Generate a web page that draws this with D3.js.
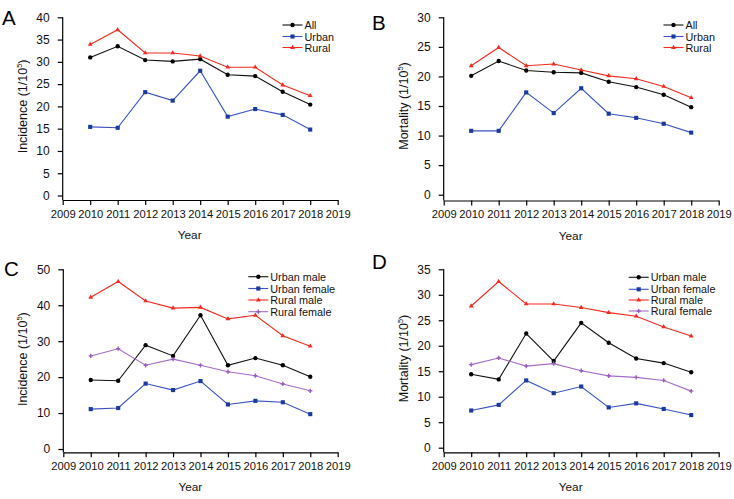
<!DOCTYPE html>
<html><head><meta charset="utf-8">
<script src="https://cdn.jsdelivr.net/npm/d3@7"></script>
<style>
html,body{margin:0;padding:0;background:#fff;}
svg{display:block;font-family:"Liberation Sans",Arial,Helvetica,sans-serif;}
</style></head>
<body>
<svg id="chart" width="734" height="499"></svg>
<script>
const years = [2010, 2011, 2012, 2013, 2014, 2015, 2016, 2017, 2018];
const xTicks = [2009, 2010, 2011, 2012, 2013, 2014, 2015, 2016, 2017, 2018, 2019];

// Panel A – Incidence
const incAll   = [31.0, 33.5, 30.4, 30.1, 30.6, 27.1, 26.8, 23.3, 20.4];
const incUrban = [15.4, 15.2, 23.2, 21.3, 28.0, 17.7, 19.4, 18.1, 14.8];
const incRural = [33.9, 37.2, 32.0, 32.0, 31.3, 28.8, 28.8, 24.8, 22.4];
// Panel B – Mortality
const morAll   = [20.1, 22.6, 21.0, 20.7, 20.6, 19.1, 18.2, 16.9, 14.8];
const morUrban = [10.8, 10.8, 17.3, 13.8, 18.0, 13.7, 13.0, 12.0, 10.5];
const morRural = [21.8, 24.9, 21.8, 22.1, 21.1, 20.1, 19.6, 18.3, 16.4];
// Panel C – Incidence by sex
const incUrbanMale   = [19.2, 19.0, 28.9, 25.9, 37.2, 23.3, 25.3, 23.3, 20.1];
const incUrbanFemale = [11.1, 11.4, 18.2, 16.4, 18.9, 12.4, 13.4, 13.0, 9.7];
const incRuralMale   = [42.2, 46.6, 41.2, 39.2, 39.4, 36.2, 37.2, 31.5, 28.6];
const incRuralFemale = [25.9, 27.9, 23.3, 25.0, 23.3, 21.5, 20.4, 18.1, 16.2];
// Panel D – Mortality by sex
const morUrbanMale   = [14.4, 13.4, 22.4, 17.0, 24.5, 20.6, 17.5, 16.6, 14.8];
const morUrbanFemale = [7.3, 8.4, 13.2, 10.7, 12.0, 7.9, 8.7, 7.6, 6.4];
const morRuralMale   = [27.8, 32.6, 28.2, 28.2, 27.5, 26.5, 25.8, 23.7, 21.9];
const morRuralFemale = [16.3, 17.6, 16.0, 16.5, 15.1, 14.1, 13.8, 13.2, 11.1];

const seriesNames2 = ["Urban male", "Urban female", "Rural male", "Rural female"];
const seriesNames1 = ["All", "Urban", "Rural"];
const yTicksA = d3.range(0, 41, 5);
const yTicksB = d3.range(0, 31, 5);
const yTicksC = d3.range(0, 51, 10);
const yTicksD = d3.range(0, 36, 5);

const styles = {
  black:  {line: "#111", fill: "#000", sym: d3.symbolCircle, size: 15},
  blue:   {line: "#3a52c4", fill: "#1a3a9e", sym: d3.symbolSquare, size: 17},
  red:    {line: "#f42a1e", fill: "#f42a1e", sym: d3.symbolTriangle, size: 10},
  purple: {line: "#a66cc8", fill: "#9a5ec0", sym: d3.symbolCross, size: 10}
};

const svg = d3.select("#chart");

function panel(cfg) {
  const g = svg.append("g");
  const x = d3.scaleLinear().domain([2009, 2019]).range([cfg.xL, cfg.xR]);
  const y = d3.scaleLinear().domain([0, cfg.yMax]).range([cfg.y0, cfg.yTop]);

  // x axis
  const xa = g.append("g").attr("transform", `translate(0,${cfg.xAxisY})`)
    .call(d3.axisBottom(x).tickValues(xTicks).tickFormat(d3.format("d")).tickSize(5).tickSizeOuter(0).tickPadding(5));
  xa.select(".domain").attr("stroke", "#000").attr("stroke-width", 1.2);
  xa.selectAll(".tick line").attr("stroke", "#000").attr("stroke-width", 1.2);
  xa.selectAll("text").attr("font-size", 11.2).attr("fill", "#111")
    .attr("font-family", "Liberation Sans, Arial, sans-serif");

  // y axis
  const ya = g.append("g").attr("transform", `translate(${cfg.xL},0)`)
    .call(d3.axisLeft(y).tickValues(cfg.yTicks).tickSize(5).tickSizeOuter(0).tickPadding(8));
  ya.select(".domain").remove();
  ya.selectAll(".tick line").attr("stroke", "#000").attr("stroke-width", 1.2);
  ya.selectAll("text").attr("font-size", 12).attr("fill", "#111")
    .attr("font-family", "Liberation Sans, Arial, sans-serif");
  g.append("line").attr("x1", cfg.xL).attr("x2", cfg.xL)
    .attr("y1", cfg.yTop).attr("y2", cfg.xAxisY)
    .attr("stroke", "#000").attr("stroke-width", 1.2);

  // axis titles
  g.append("text").attr("x", cfg.xL + 127).attr("y", cfg.xAxisY + 39)
    .attr("text-anchor", "middle").attr("font-size", 11.8).attr("fill", "#111").text("Year");
  const t = g.append("text")
    .attr("transform", `translate(${cfg.xL - 36},${(cfg.yTop + cfg.y0) / 2}) rotate(-90)`)
    .attr("text-anchor", "middle").attr("font-size", 12.5).attr("fill", "#111");
  t.append("tspan").text(cfg.yTitle + " (1/10");
  t.append("tspan").attr("font-size", 7.5).attr("dy", -5).text("5");
  t.append("tspan").attr("dy", 5).text(")");

  // panel letter
  g.append("text").attr("x", cfg.lx).attr("y", cfg.ly).attr("font-size", 20.5)
    .attr("fill", "#000").text(cfg.letter);

  // series
  const line = d3.line().x((d, i) => x(years[i])).y(d => y(d));
  cfg.series.forEach(s => {
    const st = styles[s.style];
    g.append("path").datum(s.values).attr("d", line)
      .attr("fill", "none").attr("stroke", st.line).attr("stroke-width", 1.1);
    g.selectAll(null).data(s.values).enter().append("path")
      .attr("transform", (d, i) => `translate(${x(years[i])},${y(d)})`)
      .attr("d", d3.symbol().type(st.sym).size(st.size))
      .attr("fill", st.fill);
  });

  // legend
  cfg.series.forEach((s, i) => {
    const st = styles[s.style];
    const ly = cfg.legY[i];
    g.append("line").attr("x1", cfg.legX).attr("x2", cfg.legX + 20)
      .attr("y1", ly).attr("y2", ly).attr("stroke", st.line).attr("stroke-width", 1.1);
    g.append("path").attr("transform", `translate(${cfg.legX + 10},${ly})`)
      .attr("d", d3.symbol().type(st.sym).size(st.size)).attr("fill", st.fill);
    g.append("text").attr("x", cfg.legX + 22).attr("y", ly + 4)
      .attr("font-size", 10.8).attr("fill", "#111").text(s.name);
  });
}

panel({letter: "A", lx: 2, ly: 25, xL: 62.7, xR: 337.7, yTop: 17.3, y0: 195.5, xAxisY: 200,
  yMax: 40, yTicks: yTicksA, yTitle: "Incidence",
  legX: 282.5, legY: [25, 36.5, 47.5],
  series: [
    {name: seriesNames1[0], values: incAll, style: "black"},
    {name: seriesNames1[1], values: incUrban, style: "blue"},
    {name: seriesNames1[2], values: incRural, style: "red"}]});

panel({letter: "B", lx: 372, ly: 30, xL: 443.7, xR: 718.7, yTop: 17.3, y0: 194.7, xAxisY: 200.5,
  yMax: 30, yTicks: yTicksB, yTitle: "Mortality",
  legX: 663.5, legY: [25, 36.5, 47.5],
  series: [
    {name: seriesNames1[0], values: morAll, style: "black"},
    {name: seriesNames1[1], values: morUrban, style: "blue"},
    {name: seriesNames1[2], values: morRural, style: "red"}]});

panel({letter: "C", lx: 4, ly: 275.5, xL: 63.3, xR: 337.7, yTop: 269.3, y0: 449, xAxisY: 452.3,
  yMax: 50, yTicks: yTicksC, yTitle: "Incidence",
  legX: 248.3, legY: [276.7, 288.5, 300, 311.7],
  series: [
    {name: seriesNames2[0], values: incUrbanMale, style: "black"},
    {name: seriesNames2[1], values: incUrbanFemale, style: "blue"},
    {name: seriesNames2[2], values: incRuralMale, style: "red"},
    {name: seriesNames2[3], values: incRuralFemale, style: "purple"}]});

panel({letter: "D", lx: 372, ly: 268.5, xL: 443.7, xR: 718.7, yTop: 269.3, y0: 447.7, xAxisY: 452.3,
  yMax: 35, yTicks: yTicksD, yTitle: "Mortality",
  legX: 628.7, legY: [277.3, 289.3, 300, 311],
  series: [
    {name: seriesNames2[0], values: morUrbanMale, style: "black"},
    {name: seriesNames2[1], values: morUrbanFemale, style: "blue"},
    {name: seriesNames2[2], values: morRuralMale, style: "red"},
    {name: seriesNames2[3], values: morRuralFemale, style: "purple"}]});
</script>
</body></html>
